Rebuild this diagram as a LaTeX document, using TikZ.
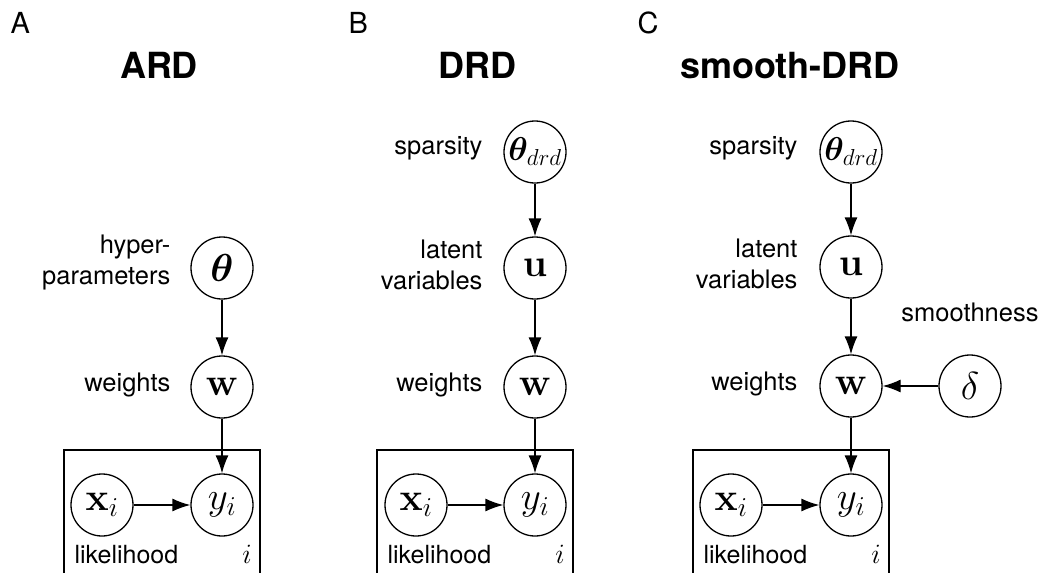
\RequirePackage{fix-cm}
\documentclass[tikz,border=0pt]{standalone}
\usepackage{amsmath,bm}
\usepackage[no-math]{fontspec}
\setmainfont{TeX Gyre Heros}
\usetikzlibrary{arrows.meta}
\newcommand{\thdrd}{{\fontsize{33}{38}\selectfont$\bm{\theta}_{drd}$}}
\begin{document}
\begin{tikzpicture}[x=1pt,y=-1pt,
 rv/.style={circle,draw,line width=1.3pt,minimum size=62pt,inner sep=0pt,font=\fontsize{39}{44}\selectfont},
 lbl/.style={anchor=east,align=right,font=\fontsize{25.5}{31}\selectfont},
 arr/.style={line width=1.3pt,-{Latex[length=18pt,width=13pt]}},
 plate/.style={line width=1.3pt},
 panel/.style={anchor=base west,font=\fontsize{29}{34}\selectfont},
 ttl/.style={anchor=base,font=\fontsize{36}{43}\selectfont\bfseries},
 platetxt/.style={anchor=base west,font=\fontsize{25}{30}\selectfont},
 idx/.style={anchor=base,font=\fontsize{28}{32}\selectfont}]
\useasboundingbox (0,0) rectangle (1042,573);

% panel labels and titles
\node[panel] (pA) at (7,33) {A};
\node[panel] (pB) at (345,33) {B};
\node[panel] (pC) at (634,33) {C};
\node[ttl] (tA) at (159,78) {ARD};
\node[ttl] (tB) at (477,78) {DRD};
\node[ttl] (tC) at (790,78) {smooth-DRD};

% ---------- A ----------
\node[rv] (thA) at (222,268) {$\bm{\theta}$};
\node[rv] (wA) at (222,387) {$\mathbf{w}$};
\node[rv] (yA) at (222,505) {$y_i$};
\node[rv] (xA) at (102,505) {$\mathbf{x}_i$};
\node[lbl] (lthA) at (174,262) {hyper-\\parameters};
\node[lbl] (lwA) at (174,385) {weights};
\draw[arr] (thA) -- (wA);
\draw[arr] (wA) -- (yA);
\draw[arr] (xA) -- (yA);
\draw[plate] (64,573) -- (64,450) -- (260,450) -- (260,573);
\node[platetxt] (likA) at (71,563) {likelihood};
\node[idx] (iA) at (247,563) {$i$};

% ---------- B ----------
\node[rv] (thB) at (535,152) {\thdrd};
\node[rv] (uB) at (535,268) {$\mathbf{u}$};
\node[rv] (wB) at (535,387) {$\mathbf{w}$};
\node[rv] (yB) at (535,505) {$y_i$};
\node[rv] (xB) at (416,505) {$\mathbf{x}_i$};
\node[lbl] (lthB) at (486,148) {sparsity};
\node[lbl] (luB) at (486,265) {latent\\variables};
\node[lbl] (lwB) at (486,385) {weights};
\draw[arr] (thB) -- (uB);
\draw[arr] (uB) -- (wB);
\draw[arr] (wB) -- (yB);
\draw[arr] (xB) -- (yB);
\draw[plate] (377,573) -- (377,450) -- (573,450) -- (573,573);
\node[platetxt] (likB) at (384,563) {likelihood};
\node[idx] (iB) at (560,563) {$i$};

% ---------- C ----------
\node[rv] (thC) at (851,152) {\thdrd};
\node[rv] (uC) at (851,267) {$\mathbf{u}$};
\node[rv] (wC) at (851,386) {$\mathbf{w}$};
\node[rv] (dC) at (970,386) {$\delta$};
\node[rv] (yC) at (851,505) {$y_i$};
\node[rv] (xC) at (731,505) {$\mathbf{x}_i$};
\node[lbl] (lthC) at (801,148) {sparsity};
\node[lbl] (luC) at (801,264) {latent\\variables};
\node[lbl] (lwC) at (801,384) {weights};
\node[anchor=base,font=\fontsize{25.5}{31}\selectfont] (ldC) at (970,321) {smoothness};
\draw[arr] (thC) -- (uC);
\draw[arr] (uC) -- (wC);
\draw[arr] (dC) -- (wC);
\draw[arr] (wC) -- (yC);
\draw[arr] (xC) -- (yC);
\draw[plate] (693,573) -- (693,450) -- (889,450) -- (889,573);
\node[platetxt] (likC) at (700,563) {likelihood};
\node[idx] (iC) at (876,563) {$i$};
\end{tikzpicture}
\end{document}
